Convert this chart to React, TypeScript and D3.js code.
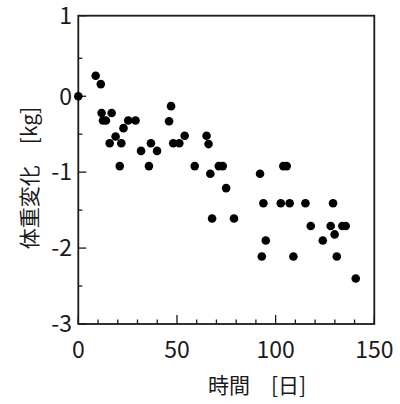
import * as d3 from 'd3';

// days, weight change [kg]
const days = [
  0, 8.8, 11.4, 11.8, 16.9, 12.5, 14, 25.3, 29, 22.9, 18.9, 15.9, 21.8, 31.8, 36.8, 39.9,
  21, 35.8, 47, 46, 48.1, 51.2, 53.9, 65, 66, 59, 66.9, 71.2, 73.2, 74.9, 67.8, 78.9,
  92.1, 103.9, 105.6, 93.8, 102.6, 107.1, 115.1, 129.1, 117.8, 127.9, 129.9, 133.8, 135.5,
  123.9, 95, 93, 109, 131, 140.6,
];
const change = [
  0, 0.27, 0.16, -0.22, -0.22, -0.32, -0.32, -0.32, -0.32, -0.42, -0.53, -0.62, -0.62, -0.72, -0.62, -0.72,
  -0.92, -0.92, -0.13, -0.33, -0.62, -0.62, -0.52, -0.52, -0.63, -0.92, -1.02, -0.92, -0.92, -1.21, -1.61, -1.61,
  -1.02, -0.92, -0.92, -1.41, -1.41, -1.41, -1.41, -1.41, -1.71, -1.71, -1.82, -1.71, -1.71,
  -1.9, -1.9, -2.11, -2.11, -2.11, -2.4,
];
const xTicks = [0, 50, 100, 150];
const yTicks = [1, 0, -1, -2, -3];

const W = 400;
const H = 404;
const font = '"Noto Sans CJK JP", "Noto Sans", sans-serif';
const ink = '#1a1a1a';

export default function App() {
  const x = d3.scaleLinear().domain([0, 150]).range([78.3, 374.3]);
  const y = d3.scaleLinear().domain([-3, 0.5, 1]).range([324, 58.3, 15.7]);

  const xMinor = d3.range(0, 151, 10);
  const yMinor = d3.range(-3, 1.01, 0.5);

  return (
    <svg width={W} height={H} style={{ position: 'absolute', left: 0, top: 0, background: '#fff' }}>
      <rect x={x(0)} y={y(1)} width={x(150) - x(0)} height={y(-3) - y(1)}
        fill="none" stroke={ink} strokeWidth={1.8} />
      {xMinor.map((d) => (
        <line key={'xt' + d} x1={x(d)} x2={x(d)} y1={y(-3)} y2={y(-3) - (d % 50 === 0 ? 9 : 4.5)}
          stroke={ink} strokeWidth={1.3} />
      ))}
      {yMinor.map((d) => (
        <line key={'yt' + d} x1={x(0)} x2={x(0) + (Math.abs(d % 1) < 1e-6 ? 8 : 4)} y1={y(d)} y2={y(d)}
          stroke={ink} strokeWidth={1.3} />
      ))}
      {xTicks.map((d) => (
        <text key={'xl' + d} x={x(d)} y={358} textAnchor="middle" fontFamily={font} fontSize={23} fill={ink}>
          {d}
        </text>
      ))}
      {yTicks.map((d) => (
        <text key={'yl' + d} x={72} y={y(d)} dy="0.36em" textAnchor="end" fontFamily={font} fontSize={23} fill={ink}>
          {d}
        </text>
      ))}
      {days.map((d, i) => (
        <circle key={i} cx={x(d)} cy={y(change[i])} r={4.3} fill="#000" />
      ))}
      <text x={257} y={393} textAnchor="middle" fontFamily={font} fontSize={21} fill={ink}>
        時間　[日]
      </text>
      <text transform="translate(37,178) rotate(-90)" textAnchor="middle" fontFamily={font} fontSize={21} fill={ink}>
        体重変化　[kg]
      </text>
    </svg>
  );
}
